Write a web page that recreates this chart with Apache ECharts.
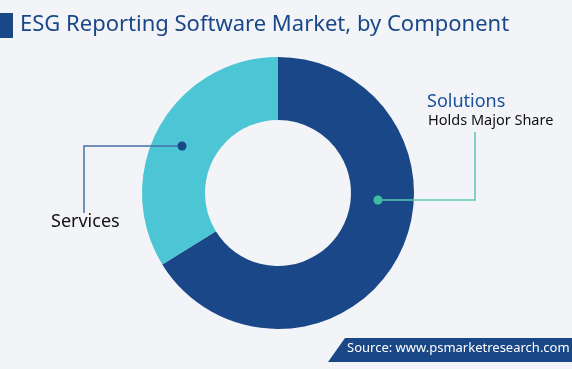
<!DOCTYPE html>
<html>
<head>
<meta charset="utf-8">
<script src="https://cdn.jsdelivr.net/npm/echarts@6/dist/echarts.min.js"></script>
<style>
html,body{margin:0;padding:0;background:#f2f4f8;}
#chart{width:572px;height:369px;}
</style>
</head>
<body>
<div id="chart"></div>
<script>
var categories = ['Solutions', 'Services'];
var shares = [66.2, 33.8];
var colors = ['#1a4787', '#4cc5d4'];
var titleText = 'ESG Reporting Software Market, by Component';
var sourceText = 'Source: www.psmarketresearch.com';

var chart = echarts.init(document.getElementById('chart'));
var font = '"Noto Sans", sans-serif';
chart.setOption({
  backgroundColor: '#f2f4f8',
  animation: false,
  series: [{
    type: 'pie',
    radius: [73, 136],
    center: [278, 193],
    startAngle: 90,
    clockwise: true,
    label: {show: false},
    labelLine: {show: false},
    silent: true,
    data: categories.map(function (c, i) {
      return {name: c, value: shares[i], itemStyle: {color: colors[i]}};
    })
  }],
  graphic: [
    {type: 'rect', z: 100, shape: {x: 0, y: 13, width: 13, height: 25}, style: {fill: '#1a4787'}},
    {type: 'text', z: 100, left: 20, top: 14, style: {text: titleText, font: '22px ' + font, fill: '#1a4787'}},
    // Solutions annotation
    {type: 'polyline', z: 100, shape: {points: [[378, 200], [475, 200], [475, 132]]}, style: {stroke: '#5cc6b4', lineWidth: 1.5, fill: null}},
    {type: 'circle', z: 101, shape: {cx: 378, cy: 200, r: 4.5}, style: {fill: '#3dbf9e'}},
    {type: 'text', z: 100, left: 427, top: 93, style: {text: categories[0], font: '18px ' + font, fill: '#1d4f9a'}},
    {type: 'text', z: 100, left: 428, top: 113, style: {text: 'Holds Major Share', font: '14.5px ' + font, fill: '#111111'}},
    // Services annotation
    {type: 'polyline', z: 100, shape: {points: [[182, 146], [84, 146], [84, 213]]}, style: {stroke: '#4670aa', lineWidth: 1.5, fill: null}},
    {type: 'circle', z: 101, shape: {cx: 182, cy: 146, r: 4.5}, style: {fill: '#1a4787'}},
    {type: 'text', z: 100, left: 51, top: 213, style: {text: categories[1], font: '18px ' + font, fill: '#111111'}},
    // Source box
    {type: 'polygon', z: 100, shape: {points: [[345, 338], [572, 338], [572, 362], [328, 362]]}, style: {fill: '#1a4787'}},
    {type: 'text', z: 101, left: 347, top: 342, style: {text: sourceText, font: '13px ' + font, fill: '#ffffff'}}
  ]
});
</script>
</body>
</html>
